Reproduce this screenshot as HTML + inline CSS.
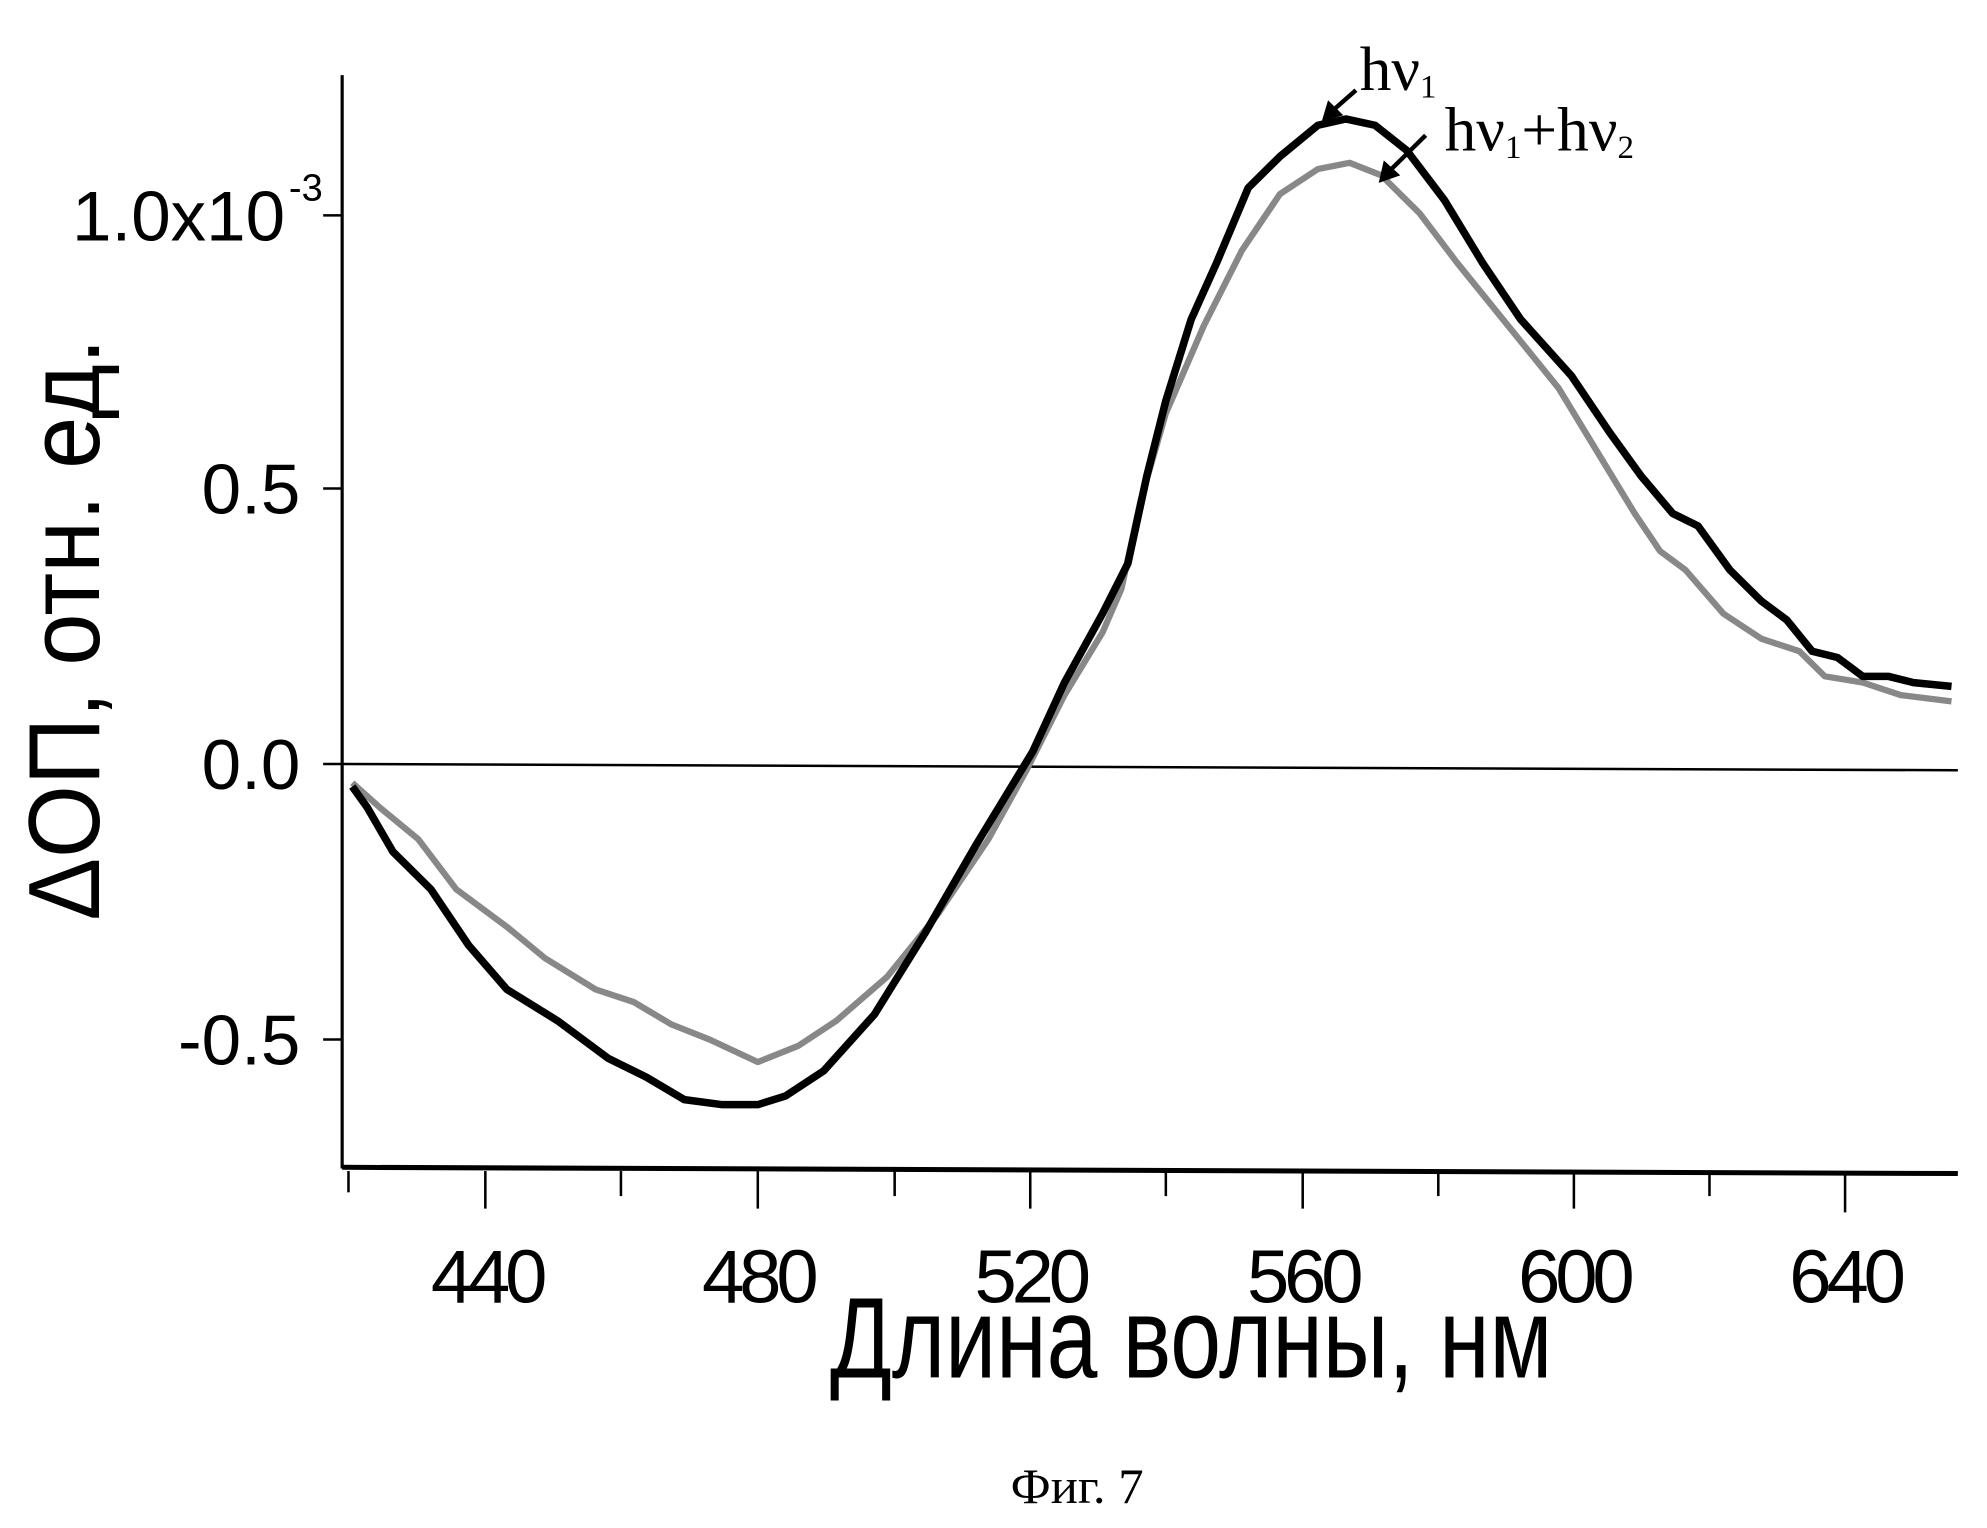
<!DOCTYPE html>
<html><head><meta charset="utf-8"><style>html,body{margin:0;padding:0;background:#fff}svg{display:block}</style></head>
<body>
<svg width="1987" height="1528" viewBox="0 0 1568 1220" preserveAspectRatio="none" xmlns="http://www.w3.org/2000/svg">
<rect width="1568" height="1220" fill="#fff"/>
<g stroke="#000" fill="none">
<line x1="270" y1="60" x2="270" y2="933" stroke-width="2.5"/>
<line x1="270" y1="932" x2="1545" y2="937" stroke-width="4"/>
<line x1="270" y1="610" x2="1545" y2="615" stroke-width="2"/>
<g stroke-width="2">
<line x1="255" y1="172" x2="270" y2="172"/><line x1="255" y1="390" x2="270" y2="390"/>
<line x1="255" y1="610" x2="270" y2="610"/><line x1="255" y1="830" x2="270" y2="830"/>
<line x1="275" y1="935" x2="275" y2="952"/>
<line x1="383" y1="935" x2="383" y2="965"/><line x1="490" y1="935" x2="490" y2="955"/>
<line x1="598" y1="935" x2="598" y2="965"/><line x1="706" y1="935" x2="706" y2="955"/>
<line x1="813" y1="935" x2="813" y2="965"/><line x1="920" y1="935" x2="920" y2="955"/>
<line x1="1028" y1="935" x2="1028" y2="965"/><line x1="1135" y1="935" x2="1135" y2="955"/>
<line x1="1242" y1="935" x2="1242" y2="965"/><line x1="1349" y1="935" x2="1349" y2="955"/>
<line x1="1456" y1="935" x2="1456" y2="968"/>
</g>
<polyline stroke="#888" stroke-width="5" stroke-linejoin="round" points="278,625 300,645 330,670 360,710 400,740 430,765 470,790 500,800 530,818 560,830 598,848 630,835 660,815 700,780 740,730 780,670 810,615 840,555 870,505 885,470 900,400 920,330 950,260 980,200 1010,155 1040,135 1065,130 1090,140 1120,170 1150,210 1190,260 1230,310 1260,360 1290,410 1310,440 1330,455 1360,490 1390,510 1420,520 1440,540 1470,545 1500,555 1540,560"/>
<polyline stroke="#000" stroke-width="6" stroke-linejoin="round" points="278,628 290,645 310,680 340,710 370,755 400,790 440,815 480,845 510,860 540,878 570,882 598,882 620,875 650,855 690,810 730,745 770,675 800,625 815,600 840,545 870,490 890,450 905,380 920,320 940,255 960,210 985,150 1010,125 1040,100 1062,95 1085,100 1110,120 1140,160 1170,210 1200,255 1240,300 1270,345 1295,380 1320,410 1340,420 1365,455 1390,480 1410,495 1430,520 1450,525 1470,540 1490,540 1510,545 1540,548"/>
<line x1="1070" y1="72" x2="1052" y2="88" stroke-width="3.5"/>
<line x1="1125" y1="108" x2="1098" y2="135" stroke-width="3.5"/>
</g>
<polygon points="1043,97 1048,80 1060,92" fill="#000"/>
<polygon points="1088,146 1092,128 1105,140" fill="#000"/>
<g font-family="Liberation Sans, sans-serif" fill="#000">
<text x="225" y="192" font-size="56" text-anchor="end">1.0x10</text>
<text x="228" y="160" font-size="30">-3</text>
<text x="237" y="410" font-size="56" text-anchor="end">0.5</text>
<text x="237" y="630" font-size="56" text-anchor="end">0.0</text>
<text x="237" y="850" font-size="56" text-anchor="end">-0.5</text>
<g font-size="60" text-anchor="middle">
<text x="386" y="1040" textLength="92">440</text>
<text x="600" y="1040" textLength="92">480</text>
<text x="815" y="1040" textLength="92">520</text>
<text x="1030" y="1040" textLength="92">560</text>
<text x="1244" y="1040" textLength="92">600</text>
<text x="1458" y="1040" textLength="92">640</text>
</g>
<text x="655" y="1100" font-size="92" textLength="570" lengthAdjust="spacingAndGlyphs">Длина волны, нм</text>
<text transform="translate(78,735) rotate(-90)" font-size="80" textLength="465" lengthAdjust="spacingAndGlyphs">ΔОП, отн. ед.</text>
</g>
<g font-family="Liberation Serif, serif" fill="#000">
<text x="1073" y="72" font-size="50">hν<tspan font-size="26" dy="6">1</tspan></text>
<text x="1140" y="120" font-size="50">hν<tspan font-size="26" dy="6">1</tspan><tspan dy="-6">+hν</tspan><tspan font-size="26" dy="6">2</tspan></text>
<text x="850" y="1200" font-size="40" text-anchor="middle">Фиг. 7</text>
</g>
</svg>
</body></html>
